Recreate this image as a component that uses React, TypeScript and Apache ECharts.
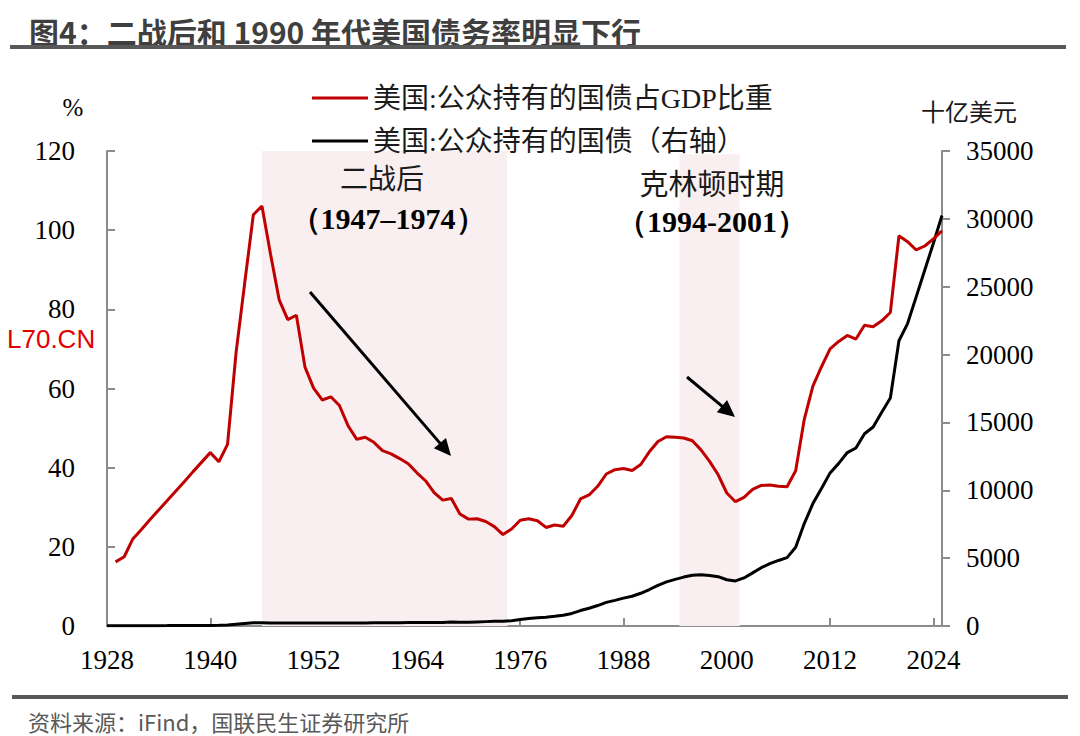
import React, { useEffect, useRef } from "react";
import * as echarts from "echarts";

// Categories: years 1928–2025
const years: string[] = [];
for (let y = 1928; y <= 2025; y++) years.push(String(y));

// 美国:公众持有的国债占GDP比重 (%), 1929–2025 (1928 has no value)
const debtRatio: (number | null)[] = [
  null,
  16.2, 17.5, 22.0, 24.4, 26.9, 29.3, 31.7, 34.1, 36.5, 39.0, 41.4, // 1929-1939
  43.8, 41.5, 45.9, 69.2, 86.7, 103.9, 106.1, 93.9, 82.4, 77.4, // 1940s
  78.5, 65.4, 60.1, 57.1, 57.9, 55.7, 50.6, 47.2, 47.7, 46.4, // 1950s
  44.3, 43.5, 42.3, 41.0, 38.7, 36.7, 33.7, 31.8, 32.2, 28.3, // 1960s
  27.0, 27.1, 26.4, 25.1, 23.1, 24.5, 26.7, 27.1, 26.6, 24.9, // 1970s
  25.5, 25.2, 27.9, 32.1, 33.1, 35.3, 38.4, 39.5, 39.8, 39.3, // 1980s
  40.8, 44.0, 46.6, 47.8, 47.7, 47.5, 46.8, 44.5, 41.6, 38.2, // 1990s
  33.6, 31.4, 32.5, 34.5, 35.5, 35.6, 35.3, 35.2, 39.2, 52.2, // 2000s
  60.6, 65.5, 70.0, 71.9, 73.4, 72.5, 76.0, 75.6, 77.1, 79.2, // 2010s
  98.6, 97.1, 95.0, 96.0, 97.8, 99.8, // 2020-2025
];

// 美国:公众持有的国债 (十亿美元), 1928–2025
const debtHeld: number[] = [
  17.6, 16.9, 16.2, 16.8, 19.5, 22.5, 27.1, 28.7, 33.8, 36.4, 37.2, 40.4, // 1928-1939
  42.8, 48.2, 67.8, 127.8, 184.8, 235.2, 241.9, 224.3, 216.3, 214.3, // 1940s
  219.0, 214.3, 214.8, 218.4, 224.5, 226.6, 222.2, 219.3, 226.3, 234.7, // 1950s
  236.8, 238.4, 248.0, 254.0, 256.8, 260.8, 263.7, 266.6, 289.5, 278.1, // 1960s
  283.2, 303.0, 322.4, 340.9, 343.7, 394.7, 477.4, 549.1, 607.1, 640.3, // 1970s
  711.9, 789.4, 924.6, 1137.3, 1307.0, 1507.3, 1740.6, 1889.8, 2051.6, 2190.7, // 1980s
  2411.6, 2689.0, 2999.7, 3248.4, 3433.1, 3604.4, 3734.1, 3772.3, 3721.1, 3632.4, // 1990s
  3409.8, 3319.6, 3540.4, 3913.4, 4295.5, 4592.2, 4829.0, 5035.1, 5803.1, 7544.7, // 2000s
  9018.9, 10128.2, 11281.1, 11982.7, 12779.9, 13116.7, 14167.6, 14665.4, 15749.6, 16800.7, // 2010s
  21017.2, 22284.0, 24252.0, 26236.0, 28200.0, 30250.0, // 2020-2025
];

// Shaded periods (year span on a hidden continuous year axis) and their top (%)
const periods = [
  { from: 1946, to: 1974.5, top: 120.7 },
  { from: 1994.5, to: 2001.5, top: 119.2 },
];

const seriesNames = ["美国:公众持有的国债占GDP比重", "美国:公众持有的国债（右轴）"];

const SERIF = "Liberation Serif, Times New Roman, serif";
const CJK = "Noto Sans CJK SC";
const AXIS_GREY = "#8c8c8c";

function arrow(x1: number, y1: number, x2: number, y2: number) {
  const dx = x2 - x1;
  const dy = y2 - y1;
  const len = Math.sqrt(dx * dx + dy * dy);
  const ux = dx / len;
  const uy = dy / len;
  const hl = 17;
  const hw = 8;
  const bx = x2 - ux * hl;
  const by = y2 - uy * hl;
  return [
    {
      type: "line",
      shape: { x1, y1, x2: bx + ux * 2, y2: by + uy * 2 },
      style: { stroke: "#000", lineWidth: 3 },
      z: 10,
    },
    {
      type: "polygon",
      shape: {
        points: [
          [x2, y2],
          [bx - uy * hw, by + ux * hw],
          [bx + uy * hw, by - ux * hw],
        ],
      },
      style: { fill: "#000" },
      z: 10,
    },
  ];
}

export default function App() {
  const ref = useRef<HTMLDivElement>(null);

  useEffect(() => {
    if (!ref.current) return;
    const chart = echarts.init(ref.current, undefined, { renderer: "svg" });

    const tickLabel = {
      fontSize: 27,
      fontFamily: SERIF,
      color: "#000",
    };

    const option: any = {
      animation: false,
      backgroundColor: "#ffffff",
      textStyle: { fontFamily: SERIF },
      grid: {
        left: 107,
        right: 138,
        top: 151,
        bottom: 110,
        containLabel: false,
        outerBoundsMode: "none",
      },
      legend: {
        data: seriesNames,
        orient: "vertical",
        left: 307,
        top: 79,
        itemWidth: 56,
        itemHeight: 3,
        icon: "rect",
        itemGap: 15,
        textStyle: { fontSize: 28, fontFamily: "Liberation Serif, Noto Sans CJK SC", color: "#1a1a1a" },
      },
      xAxis: [
        {
          type: "category",
          data: years,
          boundaryGap: false,
          axisLine: { show: true, lineStyle: { color: AXIS_GREY, width: 2 } },
          axisTick: {
            show: true,
            inside: true,
            length: 8,
            interval: 11,
            lineStyle: { color: AXIS_GREY, width: 2 },
          },
          axisLabel: { interval: 11, margin: 20, ...tickLabel },
          splitLine: { show: false },
        },
        {
          type: "value",
          min: 1928,
          max: 2025,
          show: false,
        },
      ],
      yAxis: [
        {
          type: "value",
          min: 0,
          max: 120,
          interval: 20,
          axisLine: { show: true, lineStyle: { color: AXIS_GREY, width: 2 } },
          axisTick: { show: true, inside: true, length: 8, lineStyle: { color: AXIS_GREY, width: 2 } },
          axisLabel: { margin: 32, ...tickLabel },
          splitLine: { show: false },
        },
        {
          type: "value",
          min: 0,
          max: 35000,
          interval: 5000,
          position: "right",
          axisLine: { show: true, lineStyle: { color: AXIS_GREY, width: 2 } },
          axisTick: { show: true, inside: false, length: 8, lineStyle: { color: AXIS_GREY, width: 2 } },
          axisLabel: { margin: 24, ...tickLabel, formatter: (v: number) => String(v) },
          splitLine: { show: false },
        },
      ],
      series: [
        {
          type: "line",
          name: "shade",
          xAxisIndex: 1,
          yAxisIndex: 0,
          data: [],
          silent: true,
          z: 1,
          markArea: {
            silent: true,
            itemStyle: { color: "#f9eff0" },
            data: periods.map((p) => [
              { xAxis: p.from, yAxis: 0 },
              { xAxis: p.to, yAxis: p.top },
            ]),
          },
        },
        {
          type: "line",
          name: seriesNames[1],
          data: debtHeld,
          xAxisIndex: 0,
          yAxisIndex: 1,
          showSymbol: false,
          symbol: "none",
          color: "#000000",
          lineStyle: { color: "#000000", width: 3 },
          z: 3,
        },
        {
          type: "line",
          name: seriesNames[0],
          data: debtRatio,
          xAxisIndex: 0,
          yAxisIndex: 0,
          showSymbol: false,
          symbol: "none",
          color: "#c00000",
          lineStyle: { color: "#c00000", width: 3 },
          z: 4,
        },
      ],
      graphic: [
        {
          type: "text",
          style: {
            text: "图4：二战后和 1990 年代美国债务率明显下行",
            x: 29,
            y: 31,
            font: `bold 30px ${CJK}`,
            fill: "#3f3f3f",
            align: "left",
            verticalAlign: "middle",
          },
        },
        { type: "rect", shape: { x: 10, y: 45, width: 1056, height: 4 }, style: { fill: "#595959" } },
        { type: "rect", shape: { x: 12, y: 695, width: 1056, height: 4 }, style: { fill: "#595959" } },
        {
          type: "text",
          style: {
            text: "资料来源：iFind，国联民生证券研究所",
            x: 28,
            y: 721,
            font: `22px ${CJK}`,
            fill: "#595959",
            align: "left",
            verticalAlign: "middle",
          },
        },
        {
          type: "text",
          style: {
            text: "L70.CN",
            x: 7,
            y: 339,
            font: "26px Liberation Sans",
            fill: "#e00000",
            align: "left",
            verticalAlign: "middle",
          },
          z: 20,
        },
        {
          type: "text",
          style: { text: "%", x: 73, y: 107, font: `25px ${SERIF}`, fill: "#000", align: "center", verticalAlign: "middle" },
        },
        {
          type: "text",
          style: { text: "十亿美元", x: 969, y: 110, font: `24px ${CJK}`, fill: "#1a1a1a", align: "center", verticalAlign: "middle" },
        },
        {
          type: "text",
          style: { text: "二战后", x: 382, y: 177, font: `28px ${CJK}`, fill: "#1a1a1a", align: "center", verticalAlign: "middle" },
          z: 10,
        },
        {
          type: "text",
          style: { text: "（1947–1974）", x: 388, y: 218, font: `bold 30px ${SERIF}`, fill: "#000", align: "center", verticalAlign: "middle" },
          z: 10,
        },
        {
          type: "text",
          style: { text: "克林顿时期", x: 712, y: 182, font: `29px ${CJK}`, fill: "#1a1a1a", align: "center", verticalAlign: "middle" },
          z: 10,
        },
        {
          type: "text",
          style: { text: "（1994-2001）", x: 712, y: 221, font: `bold 30px ${SERIF}`, fill: "#000", align: "center", verticalAlign: "middle" },
          z: 10,
        },
        ...arrow(310, 292, 451, 456),
        ...arrow(687, 377, 735, 417),
      ],
    };

    chart.setOption(option);
    return () => chart.dispose();
  }, []);

  return (
    <div
      ref={ref}
      style={{ position: "absolute", left: 0, top: 0, width: 1080, height: 736, background: "#fff" }}
    />
  );
}
